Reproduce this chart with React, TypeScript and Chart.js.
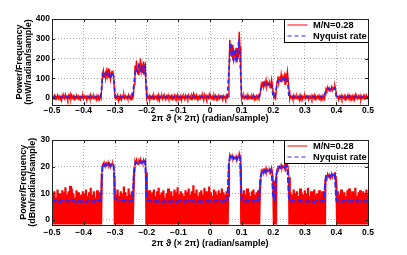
import React, { useEffect, useRef } from "react";
import { Chart, registerables } from "chart.js";

Chart.register(...registerables);

const FONT = '"Liberation Sans", Arial, Helvetica, sans-serif';

const xTicks = [-0.5, -0.4, -0.3, -0.2, -0.1, 0, 0.1, 0.2, 0.3, 0.4, 0.5];
const xTickLabels = ["\u22120.5", "\u22120.4", "\u22120.3", "\u22120.2", "\u22120.1", "0", "0.1", "0.2", "0.3", "0.4", "0.5"];
const yTicksTop = [0, 100, 200, 300, 400];
const yTicksBottom = [0, 10, 20, 30];
const seriesNames = ["M/N=0.28", "Nyquist rate"];
const xTitle = "2\u03c0 \u03d1 (\u00d7 2\u03c0) (radian/sample)";
const yTitleTop = ["Power/Frequency", "(mW/radian/sample)"];
const yTitleBottom = ["Power/Frequency", "(dBm/radian/sample)"];

// M/N=0.28 estimate, mW/radian/sample, 401 samples over [-0.5, 0.5]
const redMW = [
  -5, 9, 0.4, 12, -8, 7, 0.2, 14, -3, 10,
  0.6, 8, -11, 13, 0.3, 11, -2, 17, 0.5, 9,
  -7, 12, 0.2, 19, -4, 15, 0.6, 10, -9, 7,
  0.3, 13, -1, 11, 0.4, 8, -6, 9, 0.2, 12,
  -3, 10, 0.5, 14, -10, 8, 0.3, 11, -5, 16,
  0.2, 9, -2, 12, 0.6, 7, -8, 13, 0.4, 10,
  -6, 11, 0.3,
  55, 120, 140, 105, 128, 98, 135, 112, 150, 102, 125, 95, 130, 118, 140, 108, 45,
  -4, 9, 0.5, 14, -12, 8, 0.3, 12, -7, 10,
  0.2, 18, -1, 11, 0.6, 8, -5, 15, 0.3, 9,
  -9, 12, 0.4, 7,
  70, 165, 130, 190, 145, 120, 175, 150, 200, 135, 160, 125, 185, 140, 170, 60,
  -3, 10, 0.4, 13, -8, 9, 0.2, 11, -6, 14,
  0.5, 8, -2, 12, 0.3, 16, -10, 9, 0.6, 11,
  -4, 13, 0.2, 7, -7, 10, 0.4, 15, -1, 9,
  0.3, 12, -9, 8, 0.5, 14, -5, 11, 0.2, 17,
  -3, 9, 0.6, 12, -11, 10, 0.3, 8, -6, 13,
  0.4, 11, -2, 15, 0.2, 9, -8, 12, 0.5, 20,
  -4, 10, 0.3, 14, -7, 8, 0.6, 11, -1, 13,
  0.2, 9, -10, 16, 0.4, 12, -5, 10, 0.3, 18,
  -3, 11, 0.5, 8, -9, 14, 0.2, 12, -6, 9,
  0.6, 13, -2, 10, 0.4, 15, -8, 11, 0.3, 9,
  -5, 12, 0.2, 8,
  120, 295, 250, 210, 270, 190, 240, 220, 200, 255, 180, 230, 215, 335, 260, 110,
  -6, 10, 0.3, 13, -2, 9, 0.5, 15, -9, 11,
  0.2, 8, -4, 12, 0.6, 14, -7, 9, 0.4, 11,
  -1, 13, 0.3, 8,
  35, 72, 60, 85, 55, 78, 65, 90, 58, 75, 68, 82, 52, 70, 95, 62, 30,
  0.3, 6, -3,
  45, 85, 110, 75, 100, 90, 120, 80, 105, 95, 115, 70, 125, 100, 135, 90, 40,
  -5, 11, 0.4, 9, -8, 14, 0.2, 10, -3, 12,
  0.5, 8, -10, 15, 0.3, 11, -6, 9, 0.6, 13,
  -2, 10, 0.2, 16, -7, 8, 0.4, 12, -4, 11,
  0.3, 14, -9, 9, 0.5, 10, -1, 13, 0.2, 8,
  -6, 12, 0.4, 11, -3,
  25, 48, 38, 55, 42, 50, 35, 47, 58, 40, 52, 45, 62, 44, 22,
  0.5, 12, -8, 9, 0.3, 14, -4, 10, 0.6, 11,
  -10, 8, 0.2, 13, -2, 15, 0.4, 9, -6, 12,
  0.3, 10, -7, 16, 0.5, 8, -3, 11, 0.2, 13,
  -9, 9, 0.4, 12, -5, 10, 0.6, 14, -1, 9,
];

// Nyquist rate estimate, mW/radian/sample, 201 samples over [-0.5, 0.5]
const blueMW = [
  5.2, 4.8, 5.5, 4.9, 5.1, 4.6, 5.3, 5.0, 4.7, 5.4,
  4.9, 5.2, 4.8, 5.6, 5.0, 4.7, 5.3, 4.9, 5.1, 4.8,
  5.4, 5.0, 4.6, 5.2, 5.5, 4.9, 5.1, 4.8, 5.3, 5.0,
  5.4, 5.2,
  118, 105, 128, 110, 122, 100, 130, 112,
  6.2, 5.9, 5.6, 5.5, 5.3, 5.4, 5.1, 5.2, 5.0, 4.9, 5.2, 5.4,
  80, 150, 135, 165, 140, 155, 130, 160,
  5.8, 5.5, 5.2, 5.0, 5.3, 4.9, 5.1, 4.8, 5.2, 5.0,
  4.7, 5.1, 4.9, 5.3, 5.0, 4.8, 5.2, 4.9, 5.1, 4.7,
  5.0, 5.3, 4.9, 5.1, 4.8, 5.2, 5.0, 4.9, 5.3, 5.1,
  4.8, 5.0, 5.2, 4.9, 5.1, 4.7, 5.0, 5.3, 5.1, 4.9,
  5.2, 5.0, 4.8, 5.1, 5.3, 4.9, 5.0, 5.2, 4.8, 5.1,
  5.0, 4.9,
  140, 280, 240, 195, 250, 185, 270, 225,
  5.5, 5.2, 4.9, 5.1, 5.3, 4.8, 5.0, 5.2, 4.9, 5.1, 5.3, 5.0,
  40, 65, 75, 60, 72, 68, 78, 64,
  8, 6,
  50, 90, 100, 88, 105, 92, 110, 98,
  5.4, 5.1, 4.9, 5.2, 5.0, 4.8, 5.1, 5.3, 4.9, 5.0,
  5.2, 4.8, 5.1, 4.9, 5.3, 5.0, 4.7, 5.1, 5.2, 4.9,
  5.0, 5.3, 5.1,
  28, 44, 48, 42, 50, 46, 52,
  5.2, 5.0, 4.8, 5.1, 4.9, 5.3, 5.0, 4.7, 5.2, 4.9,
  5.1, 5.0, 4.8, 5.2, 5.0, 4.9, 5.1, 5.3, 4.9, 5.0,
  5.1,
];

const toDbm = (v: number) => (v > 0 ? 10 * Math.log10(v) : -20);
const toPoints = (arr: number[]) =>
  arr.map((v, i) => ({ x: -0.5 + i / (arr.length - 1), y: v }));

const framePlugin = {
  id: "frameLegend",
  afterDraw(chart: any, _args: any, opts: any) {
    const { ctx, chartArea: a, scales } = chart;
    const L = Math.round(a.left);
    const R = Math.round(a.right);
    const T = Math.round(a.top);
    const B = Math.round(a.bottom);
    ctx.save();
    ctx.strokeStyle = "#262626";
    ctx.lineWidth = 1;
    ctx.setLineDash([]);
    ctx.beginPath();
    xTicks.forEach((v) => {
      const px = Math.round(scales.x.getPixelForValue(v)) + 0.5;
      ctx.moveTo(px, B);
      ctx.lineTo(px, B - 3);
      ctx.moveTo(px, T);
      ctx.lineTo(px, T + 3);
    });
    (opts.yTicks as number[]).forEach((v) => {
      const py = Math.round(scales.y.getPixelForValue(v)) + 0.5;
      ctx.moveTo(L, py);
      ctx.lineTo(L + 3, py);
      ctx.moveTo(R, py);
      ctx.lineTo(R - 3, py);
    });
    ctx.stroke();

    // legend box
    const lw = 84;
    const lh = 23;
    const lx = R - lw + 0.5;
    const ly = T + 0.5;
    ctx.fillStyle = "#fff";
    ctx.fillRect(lx, ly, lw, lh);
    ctx.strokeStyle = "#000";
    ctx.strokeRect(lx, ly, lw, lh);
    ctx.lineWidth = 1;
    ctx.strokeStyle = "rgb(255,0,0)";
    ctx.beginPath();
    ctx.moveTo(lx + 3, T + 6);
    ctx.lineTo(lx + 23, T + 6);
    ctx.stroke();
    ctx.strokeStyle = "rgb(40,40,255)";
    ctx.setLineDash([4, 3]);
    ctx.beginPath();
    ctx.moveTo(lx + 3, T + 17);
    ctx.lineTo(lx + 23, T + 17);
    ctx.stroke();
    ctx.setLineDash([]);
    ctx.fillStyle = "#000";
    ctx.font = `bold 9.3px ${FONT}`;
    ctx.textBaseline = "middle";
    ctx.textAlign = "left";
    ctx.fillText(seriesNames[0], lx + 28.5, T + 6.5);
    ctx.fillText(seriesNames[1], lx + 28.5, T + 17);

    // frame
    ctx.strokeStyle = "#222";
    ctx.strokeRect(L + 0.5, T + 0.5, R - L, B - T);
    ctx.restore();
  },
};

function makeConfig(p: {
  red: number[];
  blue: number[];
  redWidth: number;
  redBandWidth: number;
  bandLevel: number;
  blueWidth: number;
  blueDash: number[];
  yMin: number;
  yMax: number;
  yTicks: number[];
  yTitle: string[];
  padTop: number;
  xHeight: number;
  tickPad: number;
  titlePadBottom: number;
  yTitlePad: number;
}): any {
  return {
    type: "line",
    data: {
      datasets: [
        {
          label: seriesNames[0],
          data: toPoints(p.red),
          borderColor: "rgb(255,0,0)",
          borderWidth: p.redWidth,
          segment: {
            borderWidth: (c: any) =>
              c.p0.parsed.y > p.bandLevel && c.p1.parsed.y > p.bandLevel ? p.redBandWidth : p.redWidth,
          },
          pointRadius: 0,
          tension: 0,
          fill: false,
          order: 2,
        },
        {
          label: seriesNames[1],
          data: toPoints(p.blue),
          borderColor: "rgb(40,40,255)",
          borderWidth: p.blueWidth,
          borderDash: p.blueDash,
          pointRadius: 0,
          tension: 0,
          fill: false,
          order: 1,
        },
      ],
    },
    options: {
      responsive: false,
      animation: false,
      events: [],
      devicePixelRatio: 1,
      layout: { padding: { left: 0, right: 39, top: p.padTop, bottom: 0 } },
      plugins: {
        legend: { display: false },
        tooltip: { enabled: false },
        frameLegend: { yTicks: p.yTicks },
      },
      scales: {
        x: {
          type: "linear",
          min: -0.5,
          max: 0.5,
          afterBuildTicks: (s: any) => {
            s.ticks = xTicks.map((v) => ({ value: v }));
          },
          afterFit: (s: any) => {
            s.height = p.xHeight;
          },
          ticks: {
            autoSkip: false,
            maxRotation: 0,
            padding: p.tickPad,
            color: "#000",
            font: { family: FONT, size: 8.5, weight: "bold" },
            callback: (_v: any, i: number) => xTickLabels[i],
          },
          grid: { color: "rgba(0,0,0,0.32)", lineWidth: 1, drawTicks: false },
          border: { display: false, dash: [1, 2] },
          title: {
            display: true,
            text: xTitle,
            color: "#000",
            font: { family: FONT, size: 9, weight: "bold", lineHeight: 1.2 },
            padding: { top: 0, bottom: p.titlePadBottom },
          },
        },
        y: {
          type: "linear",
          min: p.yMin,
          max: p.yMax,
          afterBuildTicks: (s: any) => {
            s.ticks = p.yTicks.map((v) => ({ value: v }));
          },
          afterFit: (s: any) => {
            s.width = 52;
          },
          ticks: {
            padding: 2,
            color: "#000",
            font: { family: FONT, size: 8.5, weight: "bold" },
            callback: (v: any) => String(v),
          },
          grid: { color: "rgba(0,0,0,0.32)", lineWidth: 1, drawTicks: false },
          border: { display: false, dash: [1, 2] },
          title: {
            display: true,
            text: p.yTitle,
            color: "#000",
            font: { family: FONT, size: 9, weight: "bold", lineHeight: 1.0 },
            padding: { top: p.yTitlePad, bottom: 0 },
          },
        },
      },
    },
    plugins: [framePlugin],
  };
}

export default function App() {
  const topRef = useRef<HTMLCanvasElement>(null);
  const botRef = useRef<HTMLCanvasElement>(null);

  useEffect(() => {
    const top = new Chart(
      topRef.current!,
      makeConfig({
        red: redMW,
        blue: blueMW,
        redWidth: 1.4,
        redBandWidth: 1.2,
        bandLevel: 1000,
        blueWidth: 1.8,
        blueDash: [4, 3],
        yMin: -35,
        yMax: 400,
        yTicks: yTicksTop,
        yTitle: yTitleTop,
        padTop: 19,
        xHeight: 22,
        tickPad: 1,
        titlePadBottom: 2.8,
        yTitlePad: 15.5,
      })
    );
    const bottom = new Chart(
      botRef.current!,
      makeConfig({
        red: redMW.map(toDbm),
        blue: blueMW.map(toDbm),
        redWidth: 2.2,
        redBandWidth: 1.2,
        bandLevel: 14,
        blueWidth: 2,
        blueDash: [6, 2],
        yMin: -1.7,
        yMax: 30,
        yTicks: yTicksBottom,
        yTitle: yTitleBottom,
        padTop: 13,
        xHeight: 30.5,
        tickPad: 2.7,
        titlePadBottom: 6.3,
        yTitlePad: 19,
      })
    );
    return () => {
      top.destroy();
      bottom.destroy();
    };
  }, []);

  return (
    <div style={{ position: "absolute", left: 0, top: 0, width: 407, height: 255, background: "#fff" }}>
      <canvas ref={topRef} width={407} height={127} style={{ position: "absolute", left: 0, top: 0, display: "block" }} />
      <canvas ref={botRef} width={407} height={128} style={{ position: "absolute", left: 0, top: 127, display: "block" }} />
    </div>
  );
}
